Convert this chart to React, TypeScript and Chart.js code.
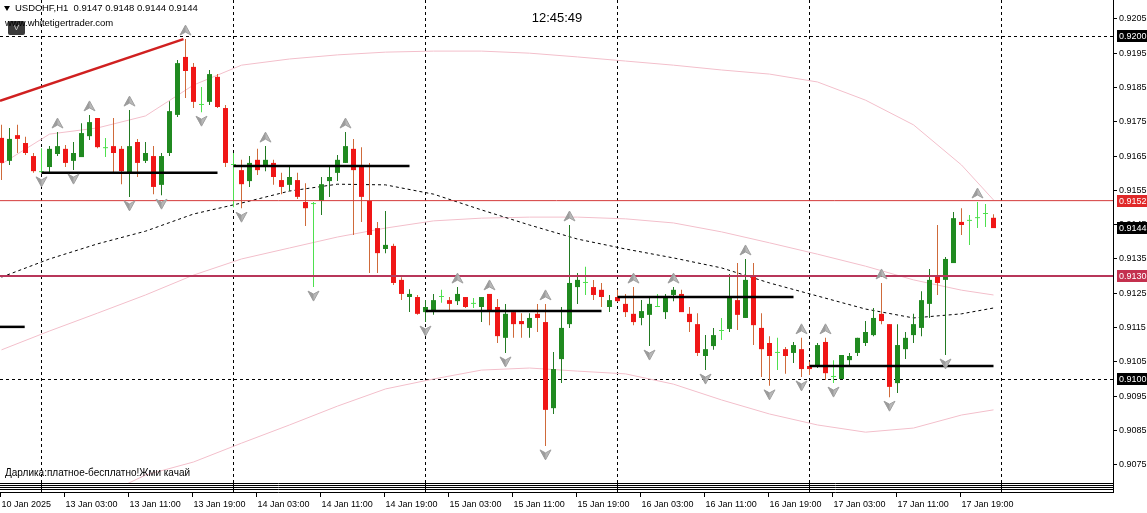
import React, { useEffect, useRef } from 'react';
import { Chart, registerables } from 'chart.js';

Chart.register(...registerables);

const FONT = '"Liberation Sans", Arial, sans-serif';

// ---- time axis ----
const timeLabels = [
  '10 Jan 2025', '13 Jan 03:00', '13 Jan 11:00', '13 Jan 19:00', '14 Jan 03:00', '14 Jan 11:00',
  '14 Jan 19:00', '15 Jan 03:00', '15 Jan 11:00', '15 Jan 19:00', '16 Jan 03:00', '16 Jan 11:00',
  '16 Jan 19:00', '17 Jan 03:00', '17 Jan 11:00', '17 Jan 19:00',
];
const timeLabelBars = [0, 8, 16, 24, 32, 40, 48, 56, 64, 72, 80, 88, 96, 104, 112, 120];
const daySeparatorBars = [5, 29, 53, 77, 101, 125];

// ---- price axis ----
const priceTicks = [0.9205, 0.9195, 0.9185, 0.9175, 0.9165, 0.9155, 0.9145, 0.9135, 0.9125, 0.9115, 0.9105, 0.9095, 0.9085, 0.9075];
const gridPrices = [0.92, 0.91];

// ---- candles (USDCHF H1) ----
const opens = [
  0.91703, 0.91636, 0.91711, 0.91688, 0.91650, 0.91603, 0.91618, 0.91656, 0.91671, 0.91636,
  0.91647, 0.91708, 0.91761, 0.91673, 0.91679, 0.91671, 0.91603, 0.91691, 0.91636, 0.91650,
  0.91566, 0.91659, 0.91770, 0.91939, 0.91910, 0.91799, 0.91808, 0.91881, 0.91790, 0.91624,
  0.91609, 0.91577, 0.91639, 0.91624, 0.91630, 0.91580, 0.91566, 0.91580, 0.91516, 0.91510,
  0.91519, 0.91577, 0.91601, 0.91630, 0.91671, 0.91618, 0.91519, 0.91440, 0.91379, 0.91388,
  0.91289, 0.91239, 0.91239, 0.91195, 0.91201, 0.91239, 0.91230, 0.91227, 0.91239, 0.91219,
  0.91210, 0.91248, 0.91210, 0.91120, 0.91195, 0.91169, 0.91149, 0.91190, 0.91166, 0.90915,
  0.91058, 0.91160, 0.91268, 0.91280, 0.91268, 0.91260, 0.91210, 0.91239, 0.91219, 0.91190,
  0.91178, 0.91187, 0.91210, 0.91195, 0.91245, 0.91248, 0.91190, 0.91160, 0.91067, 0.91096,
  0.91140, 0.91146, 0.91230, 0.91178, 0.91300, 0.91149, 0.91105, 0.91076, 0.91087, 0.91076,
  0.91087, 0.91038, 0.91035, 0.91108, 0.91006, 0.91000, 0.91055, 0.91076, 0.91105, 0.91128,
  0.91190, 0.91160, 0.90988, 0.91087, 0.91128, 0.91149, 0.91219, 0.91300, 0.91289, 0.91338,
  0.91458, 0.91461, 0.91469, 0.91481, 0.91470,
];
const highs = [
  0.91741, 0.91732, 0.91741, 0.91706, 0.91659, 0.91673, 0.91679, 0.91720, 0.91682, 0.91691,
  0.91746, 0.91770, 0.91761, 0.91703, 0.91761, 0.91679, 0.91784, 0.91700, 0.91691, 0.91679,
  0.91659, 0.91810, 0.91930, 0.91991, 0.91921, 0.91851, 0.91901, 0.91889, 0.91799, 0.91659,
  0.91639, 0.91650, 0.91671, 0.91679, 0.91639, 0.91601, 0.91618, 0.91601, 0.91571, 0.91516,
  0.91589, 0.91618, 0.91653, 0.91720, 0.91700, 0.91676, 0.91630, 0.91458, 0.91490, 0.91394,
  0.91297, 0.91262, 0.91245, 0.91230, 0.91248, 0.91260, 0.91239, 0.91268, 0.91239, 0.91236,
  0.91239, 0.91248, 0.91233, 0.91219, 0.91195, 0.91192, 0.91192, 0.91219, 0.91219, 0.91079,
  0.91210, 0.91449, 0.91309, 0.91327, 0.91289, 0.91280, 0.91245, 0.91260, 0.91248, 0.91268,
  0.91230, 0.91236, 0.91248, 0.91248, 0.91268, 0.91260, 0.91210, 0.91192, 0.91128, 0.91149,
  0.91178, 0.91306, 0.91338, 0.91350, 0.91338, 0.91192, 0.91125, 0.91120, 0.91093, 0.91108,
  0.91120, 0.91050, 0.91105, 0.91120, 0.91055, 0.91070, 0.91076, 0.91120, 0.91169, 0.91207,
  0.91280, 0.91160, 0.91160, 0.91137, 0.91190, 0.91256, 0.91321, 0.91449, 0.91356, 0.91487,
  0.91498, 0.91478, 0.91516, 0.91510, 0.91480,
];
const lows = [
  0.91580, 0.91624, 0.91659, 0.91653, 0.91601, 0.91601, 0.91601, 0.91650, 0.91618, 0.91609,
  0.91647, 0.91697, 0.91673, 0.91647, 0.91603, 0.91568, 0.91531, 0.91589, 0.91630, 0.91539,
  0.91536, 0.91650, 0.91764, 0.91819, 0.91790, 0.91778, 0.91799, 0.91790, 0.91618, 0.91501,
  0.91498, 0.91560, 0.91595, 0.91606, 0.91566, 0.91539, 0.91548, 0.91525, 0.91446, 0.91268,
  0.91478, 0.91531, 0.91577, 0.91630, 0.91420, 0.91458, 0.91309, 0.91309, 0.91367, 0.91274,
  0.91230, 0.91195, 0.91187, 0.91166, 0.91187, 0.91222, 0.91201, 0.91216, 0.91207, 0.91207,
  0.91166, 0.91157, 0.91105, 0.91076, 0.91120, 0.91120, 0.91120, 0.91137, 0.90805, 0.90898,
  0.90988, 0.91149, 0.91219, 0.91245, 0.91230, 0.91210, 0.91195, 0.91225, 0.91181, 0.91157,
  0.91157, 0.91096, 0.91210, 0.91175, 0.91227, 0.91195, 0.91137, 0.91067, 0.91026, 0.91085,
  0.91114, 0.91137, 0.91143, 0.91178, 0.91099, 0.91006, 0.90980, 0.91026, 0.91015, 0.91047,
  0.91006, 0.91012, 0.91032, 0.90997, 0.90988, 0.91000, 0.91041, 0.91067, 0.91096, 0.91125,
  0.91160, 0.90947, 0.90959, 0.91058, 0.91105, 0.91125, 0.91178, 0.91245, 0.91070, 0.91338,
  0.91420, 0.91391, 0.91440, 0.91443, 0.91440,
];
const closes = [
  0.91630, 0.91700, 0.91700, 0.91659, 0.91606, 0.91603, 0.91671, 0.91679, 0.91630, 0.91659,
  0.91717, 0.91749, 0.91676, 0.91673, 0.91659, 0.91606, 0.91679, 0.91630, 0.91659, 0.91560,
  0.91650, 0.91781, 0.91921, 0.91898, 0.91808, 0.91799, 0.91889, 0.91793, 0.91630, 0.91624,
  0.91568, 0.91630, 0.91609, 0.91639, 0.91589, 0.91560, 0.91589, 0.91531, 0.91498, 0.91510,
  0.91568, 0.91589, 0.91639, 0.91679, 0.91609, 0.91531, 0.91420, 0.91367, 0.91391, 0.91280,
  0.91248, 0.91248, 0.91190, 0.91210, 0.91230, 0.91239, 0.91219, 0.91248, 0.91210, 0.91219,
  0.91239, 0.91201, 0.91125, 0.91190, 0.91160, 0.91160, 0.91178, 0.91178, 0.90910, 0.91029,
  0.91149, 0.91280, 0.91289, 0.91280, 0.91245, 0.91239, 0.91230, 0.91227, 0.91195, 0.91166,
  0.91198, 0.91219, 0.91210, 0.91239, 0.91260, 0.91195, 0.91166, 0.91076, 0.91087, 0.91128,
  0.91140, 0.91239, 0.91187, 0.91289, 0.91157, 0.91087, 0.91067, 0.91076, 0.91067, 0.91099,
  0.91029, 0.91029, 0.91099, 0.91017, 0.91006, 0.91070, 0.91067, 0.91120, 0.91137, 0.91178,
  0.91169, 0.90977, 0.91099, 0.91120, 0.91160, 0.91230, 0.91289, 0.91280, 0.91350, 0.91469,
  0.91449, 0.91461, 0.91469, 0.91481, 0.91440,
];

// ---- fractals ----
const fractalUp = [7, 11, 16, 23, 33, 43, 57, 61, 68, 71, 79, 84, 93, 100, 103, 110, 122];
const fractalDown = [5, 9, 16, 20, 25, 30, 39, 53, 63, 68, 81, 88, 96, 100, 104, 111, 118];

// ---- indicator lines (sampled every 6 bars) ----
const bandBars = [0, 6, 12, 18, 24, 30, 36, 42, 48, 54, 60, 66, 72, 78, 84, 90, 96, 102, 108, 114, 120, 124];
const bandUpper = [0.91627, 0.91714, 0.91732, 0.91767, 0.91857, 0.91915, 0.91933, 0.91945, 0.91953, 0.91956, 0.91956, 0.91950, 0.91939, 0.91927, 0.91915, 0.91901, 0.91889, 0.91866, 0.91813, 0.91741, 0.91624, 0.91522];
const bandMiddle = [0.91085, 0.91140, 0.91192, 0.91245, 0.91303, 0.91350, 0.91382, 0.91414, 0.91440, 0.91461, 0.91469, 0.91472, 0.91472, 0.91467, 0.91455, 0.91429, 0.91397, 0.91364, 0.91329, 0.91289, 0.91259, 0.91245];
const bandLower = [0.90542, 0.90566, 0.90653, 0.90720, 0.90758, 0.90813, 0.90866, 0.90921, 0.90971, 0.91000, 0.91026, 0.91032, 0.91023, 0.91015, 0.90985, 0.90939, 0.90898, 0.90866, 0.90845, 0.90857, 0.90895, 0.90910];
const maLine = [0.91297, 0.91350, 0.91394, 0.91431, 0.91481, 0.91513, 0.91548, 0.91568, 0.91566, 0.91539, 0.91493, 0.91449, 0.91408, 0.91379, 0.91353, 0.91324, 0.91280, 0.91242, 0.91204, 0.91178, 0.91190, 0.91207];

// ---- drawn objects ----
const segStart = [-0.1875, 5, 29, 53, 77, 101];
const segEnd = [2.9, 27, 51, 75, 99, 124];
const segPrice = [0.91152, 0.91601, 0.91621, 0.91198, 0.91239, 0.91038];
const trendBars = [-0.1875, 22.75];
const trendPrices = [0.91811, 0.91991];
const levelRed = 0.9152;
const levelCrimson = 0.9130;

const X_MIN = -0.1875;
const X_MAX = 138.9375;
const Y_MIN = 0.906968;
const Y_MAX = 0.92105;

const isDoji = (i: number) => opens[i] === closes[i];
const bodyColor = (i: number) => (isDoji(i) ? '#4ee04e' : closes[i] > opens[i] ? '#208a20' : '#f01616');
const wickColor = (i: number) => (isDoji(i) ? '#4ee04e' : closes[i] > opens[i] ? '#237a23' : '#cf6a3a');

function chevron(ctx: CanvasRenderingContext2D, cx: number, cy: number, up: boolean) {
  const s = up ? 1 : -1;
  ctx.beginPath();
  ctx.moveTo(cx, cy - 5 * s);
  ctx.lineTo(cx + 5.5, cy + 5 * s);
  ctx.lineTo(cx, cy + 2 * s);
  ctx.lineTo(cx - 5.5, cy + 5 * s);
  ctx.closePath();
  ctx.fillStyle = '#b8b8b8';
  ctx.fill();
  ctx.lineWidth = 1;
  ctx.strokeStyle = '#a0a0a0';
  ctx.stroke();
  ctx.beginPath();
  ctx.moveTo(cx, cy - 5 * s);
  ctx.lineTo(cx, cy + 2 * s);
  ctx.lineTo(cx - 5.5, cy + 5 * s);
  ctx.closePath();
  ctx.fillStyle = '#9c9c9c';
  ctx.fill();
}

const mt4Plugin = {
  id: 'mt4',
  beforeDatasetsDraw(chart: any) {
    const { ctx, chartArea, scales } = chart;
    const x = scales.x;
    const y = scales.y;
    ctx.save();
    ctx.strokeStyle = '#000';
    ctx.lineWidth = 1;
    ctx.setLineDash([3, 3]);
    for (const b of daySeparatorBars) {
      const px = x.getPixelForValue(b);
      if (px > chartArea.right) continue;
      ctx.beginPath();
      ctx.moveTo(px, chartArea.top);
      ctx.lineTo(px, chartArea.bottom);
      ctx.stroke();
    }
    for (const p of gridPrices) {
      const py = Math.round(y.getPixelForValue(p)) + 0.5;
      ctx.beginPath();
      ctx.moveTo(chartArea.left, py);
      ctx.lineTo(chartArea.right, py);
      ctx.stroke();
    }
    ctx.restore();
  },
  afterDatasetsDraw(chart: any) {
    const { ctx, scales } = chart;
    const x = scales.x;
    const y = scales.y;
    ctx.save();
    for (const i of fractalUp) chevron(ctx, x.getPixelForValue(i), y.getPixelForValue(highs[i]) - 9, true);
    for (const i of fractalDown) chevron(ctx, x.getPixelForValue(i), y.getPixelForValue(lows[i]) + 9, false);
    ctx.restore();
  },
  afterDraw(chart: any) {
    const { ctx, chartArea, scales } = chart;
    const x = scales.x;
    const y = scales.y;
    ctx.save();
    ctx.strokeStyle = '#000';
    ctx.lineWidth = 1;
    const b = chartArea.bottom;
    for (const off of [0.5, 2.5, 4.5, 6.5, 9.5]) {
      ctx.beginPath();
      ctx.moveTo(chartArea.left, b + off);
      ctx.lineTo(chartArea.right + 1, b + off);
      ctx.stroke();
    }
    ctx.beginPath();
    ctx.moveTo(chartArea.right + 0.5, b);
    ctx.lineTo(chartArea.right + 0.5, b + 10);
    ctx.stroke();
    for (const d of daySeparatorBars) {
      const px = x.getPixelForValue(d);
      if (px > chartArea.right) continue;
      ctx.beginPath();
      ctx.moveTo(px, b);
      ctx.lineTo(px, b + 10);
      ctx.stroke();
    }
    for (const t of timeLabelBars) {
      const px = x.getPixelForValue(t) - 1;
      ctx.beginPath();
      ctx.moveTo(px, b + 10);
      ctx.lineTo(px, b + 14);
      ctx.stroke();
    }
    // highlighted price labels
    const boxes: [number, string][] = [
      [0.92, '#000000'],
      [levelRed, '#e02828'],
      [closes[closes.length - 1], '#000000'],
      [levelCrimson, '#c4304e'],
      [0.91, '#000000'],
    ];
    ctx.font = `9px ${FONT}`;
    ctx.textBaseline = 'middle';
    ctx.textAlign = 'left';
    for (const [p, c] of boxes) {
      const py = Math.round(y.getPixelForValue(p));
      ctx.fillStyle = c;
      ctx.fillRect(chartArea.right + 4, py - 6, 40, 12);
      ctx.fillStyle = '#ffffff';
      ctx.fillText(p.toFixed(4), chartArea.right + 6, py + 0.5);
    }
    ctx.restore();
  },
};

function lineDs(xs: number[], ys: number[], extra: any) {
  return {
    type: 'line',
    data: xs.map((v, k) => ({ x: v, y: ys[k] })),
    pointRadius: 0,
    borderWidth: 1,
    tension: 0,
    fill: false,
    ...extra,
  };
}

export default function App() {
  const ref = useRef<HTMLCanvasElement | null>(null);

  useEffect(() => {
    if (!ref.current) return;
    const n = opens.length;
    const idx = Array.from({ length: n }, (_, i) => i);
    const datasets: any[] = [
      lineDs(bandBars, bandUpper, { borderColor: '#f3bfcb', order: 20 }),
      lineDs(bandBars, bandMiddle, { borderColor: '#f3bfcb', order: 20 }),
      lineDs(bandBars, bandLower, { borderColor: '#f3bfcb', order: 20 }),
      lineDs(bandBars, maLine, { borderColor: '#000000', borderDash: [3, 3], order: 19 }),
      {
        type: 'bar',
        data: idx.map((i) => ({ x: i, y: [lows[i], highs[i]] })),
        backgroundColor: idx.map(wickColor),
        borderWidth: 0,
        barThickness: 1,
        grouped: false,
        inflateAmount: 0,
        order: 10,
      },
      {
        type: 'bar',
        data: idx.map((i) => ({ x: i, y: [Math.min(opens[i], closes[i]), Math.max(opens[i], closes[i])] })),
        backgroundColor: idx.map(bodyColor),
        borderWidth: 0,
        barThickness: 5,
        minBarLength: 1,
        grouped: false,
        inflateAmount: 0,
        order: 9,
      },
      lineDs([X_MIN, X_MAX], [levelRed, levelRed], { borderColor: '#d43a3a', order: 6 }),
      lineDs([X_MIN, X_MAX], [levelCrimson, levelCrimson], { borderColor: '#b8365a', borderWidth: 2, order: 6 }),
      ...segPrice.map((p, k) => lineDs([segStart[k], segEnd[k]], [p, p], { borderColor: '#000000', borderWidth: 2.5, order: 4 })),
      lineDs(trendBars, trendPrices, { borderColor: '#d02020', borderWidth: 2.5, order: 3 }),
    ];

    const chart = new Chart(ref.current, {
      type: 'bar',
      data: { datasets },
      plugins: [mt4Plugin],
      options: {
        responsive: false,
        animation: false,
        devicePixelRatio: 1,
        layout: { padding: 0 },
        plugins: { legend: { display: false }, tooltip: { enabled: false } },
        scales: {
          x: {
            type: 'linear',
            min: X_MIN,
            max: X_MAX,
            offset: false,
            afterBuildTicks: (s: any) => {
              s.ticks = timeLabelBars.map((v) => ({ value: v }));
            },
            afterFit: (s: any) => {
              s.height = 30;
              s.paddingLeft = 0;
              s.paddingRight = 0;
            },
            grid: { display: false, drawTicks: false },
            border: { display: false },
            ticks: {
              align: 'start',
              padding: 16,
              autoSkip: false,
              maxRotation: 0,
              minRotation: 0,
              color: '#000',
              font: { family: FONT, size: 9 },
              callback: (_v: any, i: number) => timeLabels[i],
            },
          },
          y: {
            type: 'linear',
            position: 'right',
            min: Y_MIN,
            max: Y_MAX,
            beginAtZero: false,
            afterBuildTicks: (s: any) => {
              s.ticks = priceTicks.map((v) => ({ value: v }));
            },
            afterFit: (s: any) => {
              s.width = 34;
              s.paddingTop = 0;
              s.paddingBottom = 0;
            },
            grid: { drawOnChartArea: false, drawTicks: true, tickLength: 4, color: '#000', lineWidth: 1 },
            border: { display: true, color: '#000', width: 1 },
            ticks: {
              padding: 2,
              autoSkip: false,
              color: '#000',
              font: { family: FONT, size: 9 },
              callback: (v: any) => Number(v).toFixed(4),
            },
          },
        },
      } as any,
    } as any);
    return () => chart.destroy();
  }, []);

  const last = opens.length - 1;
  const header = `USDCHF,H1  ${opens[last].toFixed(4)} ${highs[last].toFixed(4)} ${lows[last].toFixed(4)} ${closes[last].toFixed(4)}`;

  return (
    <div style={{ position: 'absolute', left: 0, top: 0, width: 1147, height: 513, background: '#fff', overflow: 'hidden' }}>
      <canvas ref={ref} width={1147} height={513} style={{ display: 'block', position: 'absolute', left: 0, top: 0 }} />
      <div style={{ position: 'absolute', left: 4, top: 6, width: 0, height: 0, borderLeft: '3px solid transparent', borderRight: '3px solid transparent', borderTop: '5px solid #000' }} />
      <div style={{ position: 'absolute', left: 15, top: 2, font: `9.5px ${FONT}`, lineHeight: '11px', whiteSpace: 'pre', color: '#000' }}>{header}</div>
      <div style={{ position: 'absolute', left: 8, top: 21, width: 17, height: 14, background: '#3a3a3a', borderRadius: 2, color: '#d0d0d0', font: `8px ${FONT}`, lineHeight: '14px', textAlign: 'center' }}>V</div>
      <div style={{ position: 'absolute', left: 5, top: 17, font: `9.5px ${FONT}`, lineHeight: '11px', whiteSpace: 'pre', color: '#000' }}>www.whitetigertrader.com</div>
      <div style={{ position: 'absolute', left: 557, top: 10, transform: 'translateX(-50%)', font: `13px ${FONT}`, lineHeight: '16px', color: '#000' }}>12:45:49</div>
      <div style={{ position: 'absolute', left: 5, top: 467, font: `10px ${FONT}`, lineHeight: '12px', whiteSpace: 'pre', color: '#000' }}>Дарлика:платное-бесплатно!Жми качай</div>
    </div>
  );
}
